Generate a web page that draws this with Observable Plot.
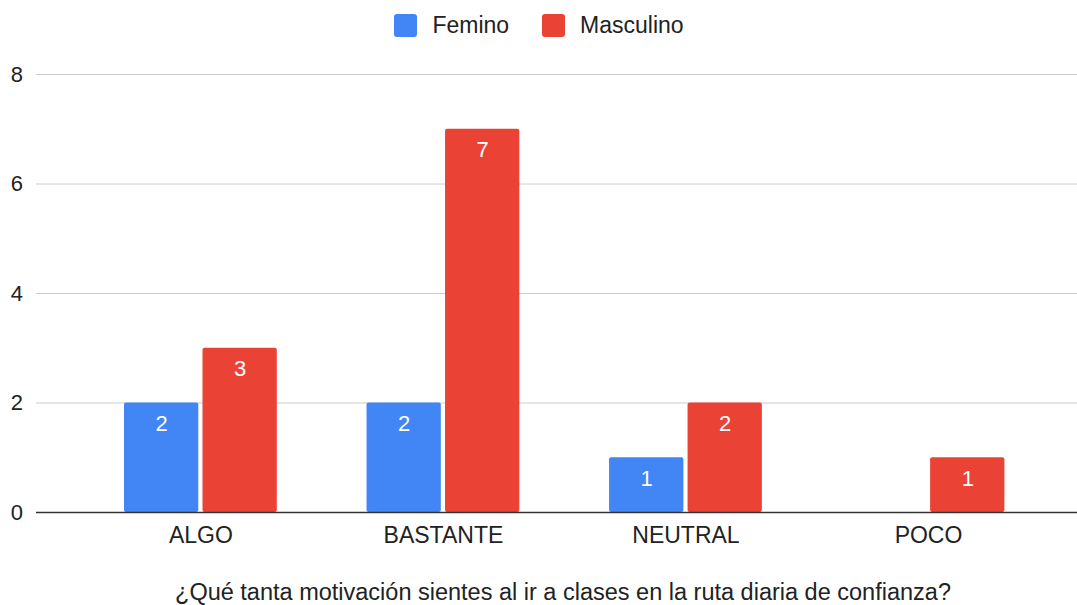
<!DOCTYPE html>
<html>
<head>
<meta charset="utf-8">
<script src="https://cdn.jsdelivr.net/npm/d3@7"></script>
<script src="https://cdn.jsdelivr.net/npm/@observablehq/plot@0.6"></script>
<style>
  html, body { margin: 0; padding: 0; background: #fff; }
  body { width: 1077px; height: 605px; overflow: hidden; font-family: "Liberation Sans", Arial, sans-serif; }
  #legend { height: 50px; display: flex; align-items: center; justify-content: center; font-size: 23px; color: #222; padding-left: 1px; }
  .item { display: flex; align-items: center; }
  .sw { width: 23px; height: 23px; border-radius: 3px; margin-right: 15px; }
  .item + .item { margin-left: 33px; }
  svg { display: block; }
</style>
</head>
<body>
<div id="legend"></div>
<div id="chart"></div>
<script>
const categories = ["ALGO", "BASTANTE", "NEUTRAL", "POCO"];
const seriesNames = ["Femino", "Masculino"];
const femino = [2, 2, 1, 0];
const masculino = [3, 7, 2, 1];
const yTicks = [0, 2, 4, 6, 8];
const colors = ["#4285F4", "#EA4335"];
const caption = "¿Qué tanta motivación sientes al ir a clases en la ruta diaria de confianza?";

const fem = categories.map((c, i) => ({cat: c, series: seriesNames[0], value: femino[i]})).filter(d => d.value > 0);
const mas = categories.map((c, i) => ({cat: c, series: seriesNames[1], value: masculino[i]})).filter(d => d.value > 0);

const legend = document.getElementById("legend");
seriesNames.forEach((s, i) => {
  const it = document.createElement("div");
  it.className = "item";
  it.innerHTML = `<div class="sw" style="background:${colors[i]}"></div><span>${s}</span>`;
  legend.appendChild(it);
});

const inset = 78.5;
const off = 39.25;

const chart = Plot.plot({
  width: 1077,
  height: 555,
  marginLeft: 36,
  marginRight: 0,
  marginTop: 24,
  marginBottom: 93,
  style: {fontFamily: "'Liberation Sans', Arial, sans-serif", fontSize: "22px", color: "#222", background: "#fff"},
  x: {domain: categories, range: [124, 1004.4], paddingInner: 0.37, paddingOuter: 0, round: false},
  y: {domain: [0, 8]},
  marks: [
    Plot.ruleY(yTicks.filter(d => d > 0), {stroke: "#cccccc", strokeWidth: 1}),
    Plot.barY(fem, {x: "cat", y: "value", fill: colors[0], insetRight: inset, rx: 2}),
    Plot.barY(mas, {x: "cat", y: "value", fill: colors[1], insetLeft: inset, rx: 2}),
    Plot.ruleY([0], {stroke: "#333", strokeWidth: 1.5}),
    Plot.text(fem, {x: "cat", y: "value", text: d => String(d.value), dx: -off, dy: 21, fill: "white", fontSize: 22}),
    Plot.text(mas, {x: "cat", y: "value", text: d => String(d.value), dx: off, dy: 21, fill: "white", fontSize: 22}),
    Plot.axisY({ticks: yTicks, tickSize: 0, tickPadding: 13.5, label: null, fontSize: 22, fill: "#222"}),
    Plot.axisX({tickSize: 0, tickPadding: 14, label: null, fontSize: 23, fill: "#222"}),
    Plot.text([caption], {frameAnchor: "bottom", text: d => d, dy: 87, dx: 6, fontSize: 23.5, fill: "#222"})
  ]
});
document.getElementById("chart").appendChild(chart);
</script>
</body>
</html>
